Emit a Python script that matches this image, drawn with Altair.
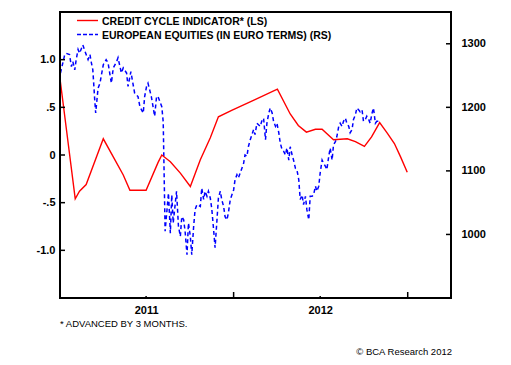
import altair as alt
import pandas as pd

# ---- data (days since 2011-01-01, values) ----
red_days = [0, 32, 41, 55, 91, 112, 133, 147, 181, 206, 214, 232, 253, 274, 295, 316,
            333, 362, 410, 457, 484, 501, 518, 537, 551, 575, 604, 621, 640, 655, 672,
            688, 703, 716, 730]
red_vals = [0.80, -0.46, -0.38, -0.31, 0.17, -0.02, -0.21, -0.37, -0.37, -0.08, 0.0, -0.07,
            -0.19, -0.33, -0.05, 0.18, 0.40, 0.47, 0.58, 0.69, 0.43, 0.31, 0.24, 0.27, 0.27,
            0.16, 0.17, 0.14, 0.09, 0.19, 0.34, 0.23, 0.12, -0.02, -0.18]

blue_days = [1, 10, 13, 20, 24, 27, 31, 34, 38, 41, 48, 55, 59, 63, 66, 69, 73, 75, 80, 84,
             91, 97, 101, 108, 112, 119, 122, 129, 133, 140, 143, 149, 157, 164, 168, 175,
             178, 182, 185, 192, 199, 203, 206, 214, 217, 221, 228, 232, 235, 238, 245, 249,
             253, 256, 260, 263, 267, 270, 274, 277, 281, 284, 288, 295, 298, 302, 305, 309,
             312, 316, 319, 323, 326, 330, 333, 337, 340, 344, 347, 351, 354, 358, 365, 368,
             372, 375, 379, 386, 389, 393, 396, 400, 407, 410, 414, 421, 424, 428, 432, 435,
             439, 442, 446, 449, 453, 456, 460, 463, 467, 470, 474, 477, 481, 484, 488, 491,
             495, 498, 502, 505, 509, 512, 516, 519, 523, 526, 530, 533, 537, 540, 544, 547,
             551, 554, 558, 561, 565, 568, 572, 575, 579, 582, 586, 589, 593, 596, 600, 603,
             607, 610, 614, 617, 621, 624, 628, 631, 635, 638, 642, 645, 649, 652, 656, 659,
             663, 666, 670]
blue_vals = [1254, 1283, 1285, 1283, 1264, 1272, 1259, 1275, 1291, 1285, 1298, 1283, 1275,
             1283, 1270, 1259, 1212, 1191, 1230, 1238, 1267, 1275, 1270, 1238, 1262, 1272,
             1278, 1254, 1262, 1254, 1233, 1256, 1222, 1217, 1201, 1191, 1217, 1233, 1238,
             1217, 1186, 1217, 1217, 1201, 1177, 1005, 1065, 1002, 1062, 1018, 1068, 1013,
             997, 1028, 1023, 1005, 968, 1018, 997, 968, 1013, 1039, 1047, 1044, 1073, 1055,
             1068, 1060, 1068, 1057, 1041, 1007, 979, 1023, 1057, 1068, 1055, 1044, 1028,
             1023, 1034, 1055, 1070, 1086, 1094, 1089, 1097, 1112, 1125, 1123, 1138, 1149,
             1165, 1157, 1175, 1170, 1178, 1183, 1149, 1175, 1191, 1199, 1191, 1178, 1170,
             1175, 1160, 1144, 1133, 1131, 1125, 1136, 1117, 1138, 1125, 1117, 1104, 1102,
             1086, 1055, 1062, 1047, 1060, 1039, 1023, 1060, 1060, 1062, 1076, 1068, 1076,
             1097, 1117, 1112, 1107, 1102, 1123, 1136, 1117, 1141, 1146, 1154, 1170, 1175,
             1170, 1178, 1183, 1175, 1170, 1160, 1165, 1181, 1188, 1199, 1196, 1193, 1196,
             1178, 1181, 1186, 1181, 1175, 1191, 1199, 1175, 1178, 1178]

left_ticks = [-1.0, -0.5, 0.0, 0.5, 1.0]
left_labels = ["-1.0", "-.5", "0", ".5", "1.0"]
right_ticks = [1000, 1100, 1200, 1300]
year_label_dates = ["2011-07-01T00:00:00", "2012-07-01T00:00:00"]
year_tick_dates = ["2012-01-01T00:00:00", "2013-01-01T00:00:00"]

legend_labels = ["CREDIT CYCLE INDICATOR* (LS)", "EUROPEAN EQUITIES (IN EURO TERMS) (RS)"]
footnote = "* ADVANCED BY 3 MONTHS."
source = "\u00a9 BCA Research 2012"

RED = "#ff0000"
BLUE = "#0000ff"
FONT = "Liberation Sans"
W, H = 391, 286

start = pd.Timestamp("2011-01-01")
red = pd.DataFrame({"date": start + pd.to_timedelta(red_days, unit="D"), "value": red_vals})
blue = pd.DataFrame({"date": start + pd.to_timedelta(blue_days, unit="D"), "value": blue_vals})

xscale = alt.Scale(domain=[alt.DateTime(year=2011, month=1, date=1),
                           alt.DateTime(year=2013, month=4, date=2)])
lscale = alt.Scale(domain=[-1.5, 1.5], nice=False, zero=False)
rscale = alt.Scale(domain=[900, 1350], nice=False, zero=False)

label_expr = " : ".join(
    f"datum.value == {v} ? '{l}'" for v, l in zip(left_ticks, left_labels)
) + " : ''"

ax_kw = dict(labelFont=FONT, labelFontSize=11, labelFontWeight="bold", labelColor="black",
             title=None, domain=False, ticks=False, grid=False)

xaxis = alt.Axis(values=[alt.DateTime(year=2011, month=7, date=1),
                         alt.DateTime(year=2012, month=7, date=1)],
                 format="%Y", labelPadding=6, labelFlush=False, **ax_kw)

blue_line = alt.Chart(blue).mark_line(color=BLUE, strokeWidth=1.5, strokeDash=[4, 3]).encode(
    x=alt.X("date:T", scale=xscale, axis=xaxis),
    y=alt.Y("value:Q", scale=rscale,
            axis=alt.Axis(orient="right", values=right_ticks, format="d",
                          labelPadding=10, **ax_kw)),
)
red_line = alt.Chart(red).mark_line(color=RED, strokeWidth=1.4).encode(
    x=alt.X("date:T", scale=xscale),
    y=alt.Y("value:Q", scale=lscale,
            axis=alt.Axis(orient="left", values=left_ticks, labelExpr=label_expr,
                          labelPadding=5, **ax_kw)),
)

rule_kw = dict(color="black", strokeWidth=1.5)
lt = alt.Chart(pd.DataFrame({"v": left_ticks})).mark_rule(**rule_kw).encode(
    y=alt.Y("v:Q", scale=lscale, axis=None), x=alt.value(0), x2=alt.value(5))
rt = alt.Chart(pd.DataFrame({"v": right_ticks})).mark_rule(**rule_kw).encode(
    y=alt.Y("v:Q", scale=rscale, axis=None), x=alt.value(W), x2=alt.value(W - 5))
big_t = alt.Chart(pd.DataFrame({"d": year_tick_dates})).mark_rule(**rule_kw).encode(
    x=alt.X("d:T", scale=xscale), y=alt.value(H), y2=alt.value(H - 6))
small_t = alt.Chart(pd.DataFrame({"d": year_label_dates})).mark_rule(**rule_kw).encode(
    x=alt.X("d:T", scale=xscale), y=alt.value(H), y2=alt.value(H - 2))

one = pd.DataFrame({"a": [0]})
# plot frame
frame = alt.Chart(one).mark_rect(fill=None, stroke="black", strokeWidth=2).encode(
    x=alt.value(0), x2=alt.value(W), y=alt.value(0), y2=alt.value(H))

leg_red = alt.Chart(one).mark_rule(color=RED, strokeWidth=1.4).encode(
    x=alt.value(17), x2=alt.value(38), y=alt.value(8.5))
leg_blue = alt.Chart(one).mark_rule(color=BLUE, strokeWidth=1.5, strokeDash=[4, 2]).encode(
    x=alt.value(17), x2=alt.value(38), y=alt.value(22.5))
txt_kw = dict(font=FONT, fontSize=10.5, fontWeight="bold", color="black",
              align="left", baseline="middle")
leg_t1 = alt.Chart(one).mark_text(text=legend_labels[0], **txt_kw).encode(
    x=alt.value(42), y=alt.value(9.5))
leg_t2 = alt.Chart(one).mark_text(text=legend_labels[1], **txt_kw).encode(
    x=alt.value(42), y=alt.value(24))
foot = alt.Chart(one).mark_text(text=footnote, font=FONT, fontSize=9.5, color="black",
                                align="left", baseline="middle").encode(
    x=alt.value(0), y=alt.value(312))
src = alt.Chart(one).mark_text(text=source, font=FONT, fontSize=9.5, color="black",
                               align="right", baseline="middle").encode(
    x=alt.value(392), y=alt.value(340))

chart = alt.layer(
    blue_line, red_line, lt, rt, big_t, small_t, frame,
    leg_red, leg_blue, leg_t1, leg_t2, foot, src
).resolve_scale(y="independent").properties(
    width=W, height=H,
    autosize=alt.AutoSizeParams(type="none"),
    padding={"left": 52, "top": 4, "right": 52, "bottom": 59},
).configure_view(stroke=None).configure(background="white")

chart.save("out.html", embed_options={"renderer": "svg", "actions": False})
